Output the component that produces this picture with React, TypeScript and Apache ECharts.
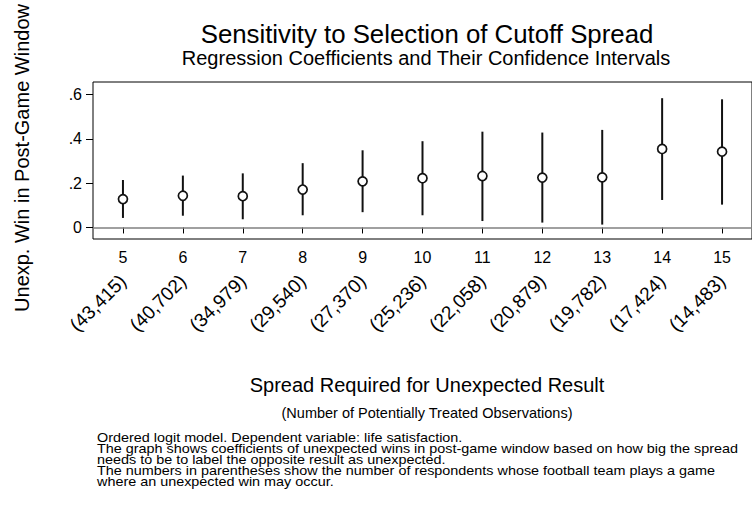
import React, { useEffect, useRef } from "react";
import * as echarts from "echarts";

const spreads = ["5", "6", "7", "8", "9", "10", "11", "12", "13", "14", "15"];
const observations = [
  "(43,415)", "(40,702)", "(34,979)", "(29,540)", "(27,370)", "(25,236)",
  "(22,058)", "(20,879)", "(19,782)", "(17,424)", "(14,483)",
];
const coefficients = [0.128, 0.143, 0.141, 0.171, 0.208, 0.222, 0.232, 0.225, 0.226, 0.354, 0.342];
const ciLow = [0.043, 0.053, 0.037, 0.055, 0.069, 0.055, 0.029, 0.022, 0.013, 0.124, 0.103];
const ciHigh = [0.214, 0.234, 0.244, 0.29, 0.348, 0.389, 0.432, 0.428, 0.44, 0.583, 0.578];
const yTicks = [0, 0.2, 0.4, 0.6];

const titleText = "Sensitivity to Selection of Cutoff Spread";
const subtitleText = "Regression Coefficients and Their Confidence Intervals";
const yTitle = "Unexp. Win in Post-Game Window";
const xTitle = "Spread Required for Unexpected Result";
const xSubTitle = "(Number of Potentially Treated Observations)";
const notes = [
  "Ordered logit model. Dependent variable: life satisfaction.",
  "The graph shows coefficients of unexpected wins in post-game window based on how big the spread",
  "needs to be to label the opposite result as unexpected.",
  "The numbers in parentheses show the number of respondents whose football team plays a game",
  "where an unexpected win may occur.",
];

const FONT = "'Liberation Sans', Arial, Helvetica, sans-serif";

export default function App() {
  const ref = useRef<HTMLDivElement>(null);

  useEffect(() => {
    document.body.style.margin = "0";
    const chart = echarts.init(ref.current!, null, { renderer: "svg" });
    const noteScale = 0.84;
    const option: any = {
      animation: false,
      backgroundColor: "#fff",
      textStyle: { fontFamily: FONT },
      grid: {
        left: 93,
        top: 82,
        right: -9,
        bottom: 269,
        show: true,
        borderColor: "#000",
        borderWidth: 1,
        backgroundColor: "transparent",
      },
      xAxis: [
        {
          type: "category",
          data: spreads,
          boundaryGap: true,
          position: "bottom",
          axisLine: { show: false },
          axisTick: { show: true, alignWithLabel: true, length: 6, lineStyle: { color: "#000", width: 1 } },
          axisLabel: { fontSize: 16, color: "#000", margin: 10, fontFamily: FONT, interval: 0 },
          splitLine: { show: false },
        },
        {
          type: "category",
          data: observations,
          boundaryGap: true,
          position: "bottom",
          axisLine: { show: false },
          axisTick: { show: false },
          axisLabel: { fontSize: 19, color: "#000", margin: 39, rotate: 45, fontFamily: FONT, interval: 0 },
          splitLine: { show: false },
        },
      ],
      yAxis: {
        type: "value",
        min: -0.052,
        max: 0.656,
        axisLine: { show: false },
        axisTick: { show: true, length: 7, customValues: yTicks, lineStyle: { color: "#000", width: 1 } },
        axisLabel: {
          fontSize: 16,
          color: "#000",
          margin: 11,
          fontFamily: FONT,
          customValues: yTicks,
          formatter: (v: number) => (v === 0 ? "0" : String(v).replace(/^0/, "")),
        },
        splitLine: { show: false },
      },
      series: [
        {
          type: "custom",
          xAxisIndex: 0,
          encode: { x: 0, y: [1, 2] },
          data: spreads.map((_, i) => [i, ciLow[i], ciHigh[i]]),
          renderItem: (params: any, api: any) => {
            const i = api.value(0);
            const lo = api.coord([i, api.value(1)]);
            const hi = api.coord([i, api.value(2)]);
            return {
              type: "line",
              shape: { x1: lo[0], y1: lo[1], x2: hi[0], y2: hi[1] },
              style: { stroke: "#111", lineWidth: 2 },
            };
          },
          z: 2,
        },
        {
          type: "scatter",
          xAxisIndex: 0,
          data: coefficients,
          symbol: "circle",
          symbolSize: 9,
          itemStyle: { color: "#fff", borderColor: "#111", borderWidth: 1.7, opacity: 1 },
          z: 3,
          markLine: {
            silent: true,
            symbol: "none",
            label: { show: false },
            lineStyle: { color: "#808080", width: 1.6, type: "solid" },
            data: [{ yAxis: 0 }],
          },
        },
      ],
      graphic: [
        {
          type: "text",
          x: 427,
          y: 33.5,
          style: { text: titleText, fontSize: 25.8, fontFamily: FONT, fill: "#000", textAlign: "center", textVerticalAlign: "middle" },
        },
        {
          type: "text",
          x: 426,
          y: 58,
          style: { text: subtitleText, fontSize: 20, fontFamily: FONT, fill: "#000", textAlign: "center", textVerticalAlign: "middle" },
        },
        {
          type: "text",
          x: 22,
          y: 158,
          rotation: Math.PI / 2,
          style: { text: yTitle, fontSize: 20, fontFamily: FONT, fill: "#000", textAlign: "center", textVerticalAlign: "middle" },
        },
        {
          type: "text",
          x: 427,
          y: 385,
          style: { text: xTitle, fontSize: 20, fontFamily: FONT, fill: "#000", textAlign: "center", textVerticalAlign: "middle" },
        },
        {
          type: "text",
          x: 427,
          y: 413,
          style: { text: xSubTitle, fontSize: 14.5, fontFamily: FONT, fill: "#000", textAlign: "center", textVerticalAlign: "middle" },
        },
        {
          type: "group",
          x: 97,
          y: 432.5,
          scaleY: noteScale,
          children: notes.map((line, i) => ({
            type: "text",
            x: 0,
            y: (i * 10.9) / noteScale,
            style: {
              text: line,
              fontSize: 14.4,
              fontFamily: FONT,
              fill: "#000",
              textAlign: "left",
              textVerticalAlign: "top",
            },
          })),
        },
      ],
    };
    chart.setOption(option);
    return () => chart.dispose();
  }, []);

  return <div ref={ref} style={{ width: 752, height: 508 }} />;
}
